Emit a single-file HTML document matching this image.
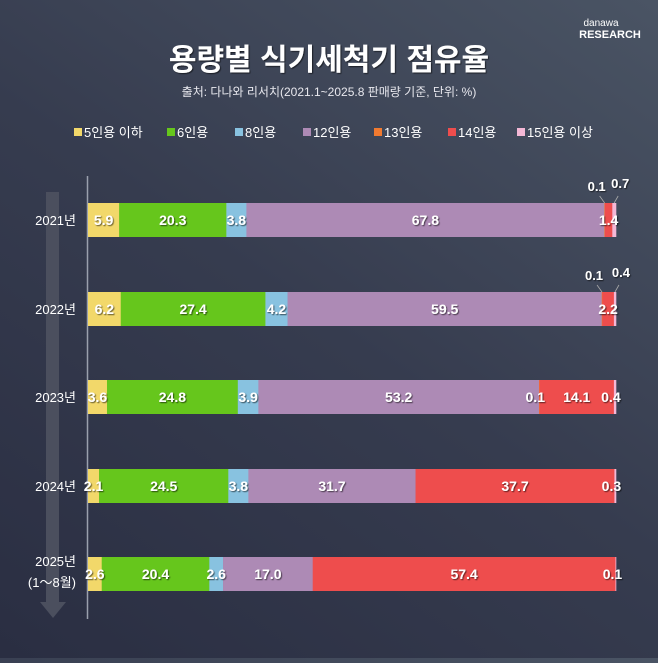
<!DOCTYPE html>
<html><head><meta charset="utf-8"><style>
html,body{margin:0;padding:0}
body{width:658px;height:658px;overflow:hidden;background:linear-gradient(215deg,#4a5464 0%,#363c4f 50%,#2a2e42 100%);font-family:"Liberation Sans","Noto Sans CJK KR",sans-serif}
svg text{font-family:"Liberation Sans","Noto Sans CJK KR",sans-serif}
</style></head><body>
<svg id="s" width="658" height="658" xmlns="http://www.w3.org/2000/svg">
<defs><filter id="sh"><feDropShadow dx="1" dy="1" stdDeviation="0.6" flood-color="#000" flood-opacity="0.6"/></filter></defs>
<text x="601" y="26" fill="#fff" font-size="10" text-anchor="middle">danawa</text>
<text x="610" y="38" fill="#fff" font-size="11" font-weight="bold" text-anchor="middle">RESEARCH</text>
<text x="329" y="70" fill="#fff" font-size="30" font-weight="bold" text-anchor="middle" filter="url(#sh)">용량별 식기세척기 점유율</text>
<text x="329" y="96" fill="#e8e8ee" font-size="12" text-anchor="middle">출처: 다나와 리서치(2021.1~2025.8 판매량 기준, 단위: %)</text>
<rect x="46" y="192" width="13" height="410" fill="#4b4f5e"/>
<polygon points="40,602 66,602 53,618" fill="#4b4f5e"/>
<line x1="87.5" y1="176" x2="87.5" y2="619" stroke="#9aa0ad" stroke-width="1.5"/>
<g id="g"></g>
</svg>
<script>
var C=["#f2d86a","#66c61c","#88c2e0","#ad8ab5","#f07a30","#ee4d4d","#f4b8d6"];
var L=["5인용 이하","6인용","8인용","12인용","13인용","14인용","15인용 이상"];
var LX=[74,167,235,303,374,448,517];
var D=[[5.9,20.3,3.8,67.8,0.1,1.4,0.7],[6.2,27.4,4.2,59.5,0.1,2.2,0.4],[3.6,24.8,3.9,53.2,0.1,14.1,0.4],[2.1,24.5,3.8,31.7,0,37.7,0.3],[2.6,20.4,2.6,17.0,0,57.4,0.1]];
var Y=[203,292,380,469,557];
var g=document.getElementById('g'),h='';
for(var i=0;i<7;i++){h+='<rect x="'+LX[i]+'" y="128" width="8" height="8" fill="'+C[i]+'"/><text x="'+(LX[i]+10)+'" y="137" fill="#fff" font-size="13">'+L[i]+'</text>';}
var yl=["2021년","2022년","2023년","2024년","2025년"];
for(var r=0;r<5;r++){
 var x=88,y=Y[r],sum=D[r].reduce((a,b)=>a+b,0),k=528/sum;
 h+='<text x="76" y="'+(r==4?y+9:y+22)+'" fill="#fff" font-size="13" text-anchor="end">'+yl[r]+'</text>';
 var cs=[];
 for(var i=0;i<7;i++){var w=D[r][i]*k;if(w>0)h+='<rect x="'+x+'" y="'+y+'" width="'+(w+0.3)+'" height="34" fill="'+C[i]+'"/>';cs.push([x,w]);x+=w;}
 for(var i=0;i<7;i++){var v=D[r][i];if(v==0)continue;var cx=cs[i][0]+cs[i][1]/2,ty=y+22;
  if(r<2&&(i==4||i==6)){
   var lx=i==4?cx-8:cx+6, ly=y-12;
   h+='<line x1="'+cx+'" y1="'+y+'" x2="'+(i==4?cx-5:cx+4)+'" y2="'+(y-7)+'" stroke="#aaa" stroke-width="0.8"/>';
   h+='<text x="'+lx+'" y="'+(i==4?ly:ly-3)+'" fill="#fff" font-size="13" font-weight="bold" text-anchor="middle" filter="url(#sh)">'+v.toFixed(1)+'</text>';continue;}
  if(i==6&&r>=2)cx=cs[i][0]-3;
  if(r==2&&i==4)cx-=4;
  h+='<text x="'+cx+'" y="'+ty+'" fill="#fff" font-size="14" font-weight="bold" text-anchor="middle" filter="url(#sh)">'+v.toFixed(1)+'</text>';}
}
h+='<text x="76" y="587" fill="#fff" font-size="13" text-anchor="end">(1～8월)</text>';
g.innerHTML=h;
</script>
</body></html>
